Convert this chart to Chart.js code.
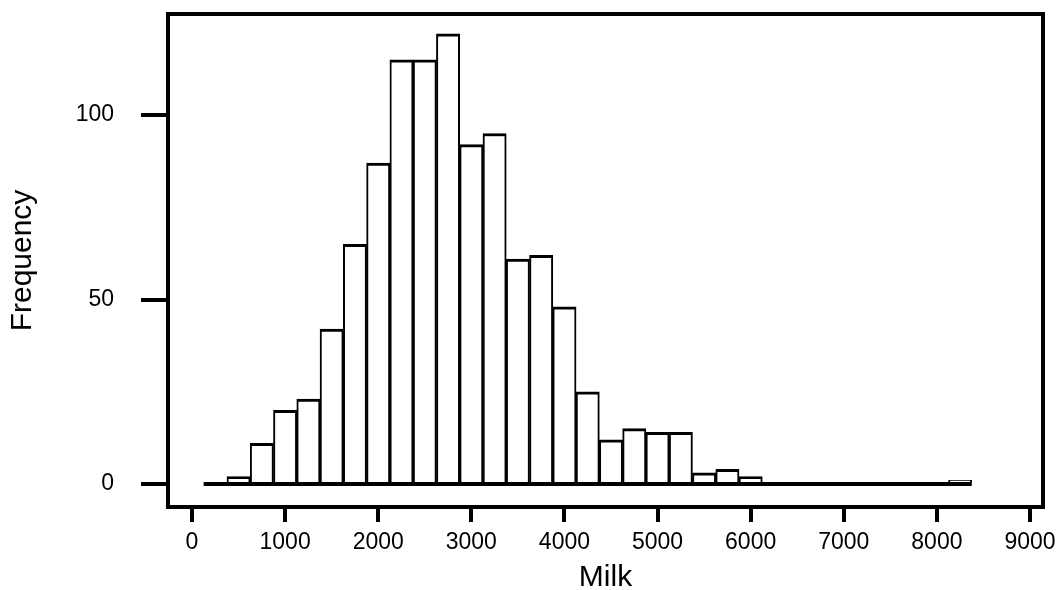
<!DOCTYPE html>
<html>
<head>
<meta charset="utf-8">
<script src="https://cdn.jsdelivr.net/npm/chart.js@4/dist/chart.umd.min.js"></script>
<style>
  html, body { margin: 0; padding: 0; background: #fff; }
  canvas { display: block; }
</style>
</head>
<body>
<canvas id="c" width="1057" height="590"></canvas>
<script>
// Histogram of Milk (bin centers, bin width 250)
const binCenters = [250, 500, 750, 1000, 1250, 1500, 1750, 2000, 2250, 2500, 2750,
                    3000, 3250, 3500, 3750, 4000, 4250, 4500, 4750, 5000, 5250, 5500,
                    5750, 6000, 6250, 6500, 6750, 7000, 7250, 7500, 7750, 8000, 8250];
const frequencies = [0, 2, 11, 20, 23, 42, 65, 87, 115, 115, 122,
                     92, 95, 61, 62, 48, 25, 12, 15, 14, 14, 3,
                     4, 2, 0, 0, 0, 0, 0, 0, 0, 0, 1];
const binWidth = 250;
const xTickValues = [0, 1000, 2000, 3000, 4000, 5000, 6000, 7000, 8000, 9000];
const yTickValues = [0, 50, 100];
const xTitle = 'Milk';
const yTitle = 'Frequency';

const barData = binCenters.map((c, i) => ({ x: c, y: frequencies[i] }));
const firstEdge = binCenters[0] - binWidth / 2;
const lastEdge = binCenters[binCenters.length - 1] + binWidth / 2;
const baseline = [{ x: firstEdge, y: 0 }, { x: lastEdge, y: 0 }];

const framePlugin = {
  id: 'frame',
  afterDraw(chart) {
    const { ctx, chartArea: a } = chart;
    ctx.save();
    ctx.strokeStyle = '#000';
    ctx.lineWidth = 4;
    ctx.strokeRect(a.left, a.top, a.right - a.left, a.bottom - a.top);
    ctx.restore();
  }
};

const tickFont = { family: 'Liberation Sans, Arial, sans-serif', size: 23 };
const titleFont = { family: 'Liberation Sans, Arial, sans-serif', size: 30, lineHeight: 0.8 };

new Chart(document.getElementById('c'), {
  type: 'bar',
  data: {
    datasets: [
      {
        type: 'line',
        data: baseline,
        borderColor: '#000',
        borderWidth: 4,
        pointRadius: 0,
        order: 0
      },
      {
        type: 'bar',
        data: barData,
        backgroundColor: '#fff',
        borderColor: '#000',
        borderWidth: { top: 3, left: 2, right: 2, bottom: 0 },
        borderSkipped: false,
        barPercentage: 1,
        categoryPercentage: 1,
        order: 1
      }
    ]
  },
  options: {
    responsive: false,
    animation: false,
    events: [],
    layout: { padding: { top: 14, right: 14, left: 0, bottom: 0 } },
    plugins: { legend: { display: false }, tooltip: { enabled: false } },
    scales: {
      x: {
        type: 'linear',
        offset: false,
        min: -257.8,
        max: 9139.7,
        afterBuildTicks: s => { s.ticks = xTickValues.map(v => ({ value: v })); },
        afterFit: s => { s.height = 83; s.paddingLeft = 0; s.paddingRight = 0; },
        border: { display: false },
        grid: { offset: false, drawOnChartArea: false, drawTicks: true, tickLength: 15, tickWidth: 4, lineWidth: 4, color: '#000' },
        ticks: {
          color: '#000', font: tickFont, padding: 7,
          autoSkip: false, maxRotation: 0, minRotation: 0,
          callback: v => String(v)
        },
        title: { display: true, text: xTitle, color: '#000', font: titleFont, padding: { top: 0, bottom: 0 } }
      },
      y: {
        type: 'linear',
        min: -6.23,
        max: 127.4,
        afterBuildTicks: s => { s.ticks = yTickValues.map(v => ({ value: v })); },
        afterFit: s => { s.width = 168; s.paddingTop = 0; s.paddingBottom = 0; },
        border: { display: false },
        grid: { drawOnChartArea: false, drawTicks: true, tickLength: 27, tickWidth: 4, lineWidth: 4, color: '#000' },
        ticks: { color: '#000', font: tickFont, padding: 27, callback: v => String(v) },
        title: { display: true, text: yTitle, color: '#000', font: titleFont, padding: { top: 11, bottom: 0 } }
      }
    }
  },
  plugins: [framePlugin]
});
</script>
</body>
</html>
